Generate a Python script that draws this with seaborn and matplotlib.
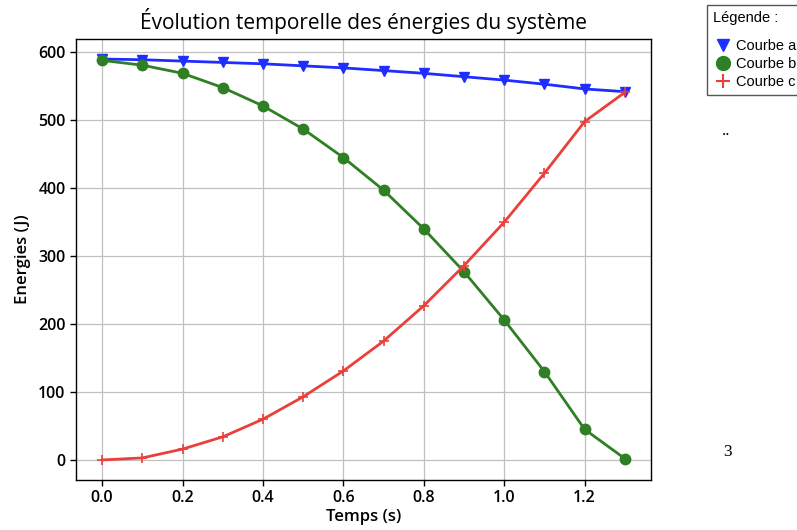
import numpy as np
import pandas as pd
import matplotlib
matplotlib.use("Agg")
import matplotlib.pyplot as plt
from matplotlib.lines import Line2D
import seaborn as sns

temps = [0.0, 0.1, 0.2, 0.3, 0.4, 0.5, 0.6, 0.7, 0.8, 0.9, 1.0, 1.1, 1.2, 1.3]
courbe_a = [590, 589, 587, 585, 583, 580, 577, 573, 569, 564, 559, 553, 546, 542]
courbe_b = [588, 581, 569, 548, 521, 487, 445, 397, 340, 277, 206, 130, 45, 2]
courbe_c = [0, 3, 16, 34, 60, 93, 131, 175, 227, 286, 350, 422, 498, 541]
labels = ["Courbe a", "Courbe b", "Courbe c"]

colors = ["#1f2eff", "#2f7f24", "#ea3f3a"]
markers = ["v", "o", "+"]
msizes = [7, 7.5, 7]
mews = [1.0, 1.0, 1.2]

sns.set_style("ticks")
plt.rcParams["font.family"] = ["Open Sans", "DejaVu Sans"]
plt.rcParams["text.color"] = "black"
plt.rcParams["axes.labelcolor"] = "black"
plt.rcParams["xtick.color"] = "black"
plt.rcParams["ytick.color"] = "black"

fig = plt.figure(figsize=(7.97, 5.30), dpi=100)
ax = fig.add_axes([76 / 797, 1 - 480 / 530, (651 - 76) / 797, (480 - 39) / 530])

for ys, c, m, ms, mw in zip([courbe_a, courbe_b, courbe_c], colors, markers, msizes, mews):
    sns.lineplot(x=temps, y=ys, ax=ax, color=c, marker=m, markersize=ms,
                 markeredgecolor=c, markerfacecolor=c, markeredgewidth=mw,
                 linewidth=2, legend=False, zorder=3)

ax.grid(True, color="#c0c0c0", linewidth=0.9, zorder=0)
ax.set_axisbelow(True)
for s in ax.spines.values():
    s.set_color("black")
    s.set_linewidth(1.0)
ax.tick_params(axis="both", labelsize=11.5, color="black", length=4, width=1)
ax.set_xticks([0.0, 0.2, 0.4, 0.6, 0.8, 1.0, 1.2])
ax.set_xticklabels([f"{v:.1f}" for v in [0.0, 0.2, 0.4, 0.6, 0.8, 1.0, 1.2]])
for lab in ax.get_xticklabels() + ax.get_yticklabels():
    lab.set_fontweight("semibold")
ax.set_xlabel("Temps (s)", fontsize=12, fontweight="semibold", labelpad=2)
ax.set_ylabel("Energies (J)", fontsize=12, fontweight="semibold", labelpad=5)
ax.set_title("Évolution temporelle des énergies du système", fontsize=15,
             fontweight="medium", pad=7)

handles = [Line2D([], [], linestyle="none", marker=m, color=c, markersize=s,
                  markeredgewidth=w)
           for c, m, s, w in zip(colors, markers, [9, 10, 10], [1.0, 1.0, 1.5])]
leg = fig.legend(handles, labels, title="Légende :", loc="upper left",
                 bbox_to_anchor=(707 / 797, 1 - 5 / 530), frameon=True,
                 fancybox=False, edgecolor="#555555", framealpha=1,
                 prop={"family": "Liberation Sans", "size": 10.5},
                 handlelength=1.4, handletextpad=0.2, labelspacing=0.3,
                 borderpad=0.4, borderaxespad=0)
leg.get_title().set_fontfamily("Liberation Sans")
leg.get_title().set_fontsize(10.5)
leg._legend_box.align = "left"
leg._legend_box.sep = 10

fig.text(726 / 797, 1 - 131 / 530, "..", family="Liberation Serif", fontsize=12,
         ha="center", va="center")
fig.text(727 / 797, 1 - 452 / 530, "3", family="Liberation Serif", fontsize=12.5,
         ha="center", va="center")

fig.savefig("out.png", dpi=100)
